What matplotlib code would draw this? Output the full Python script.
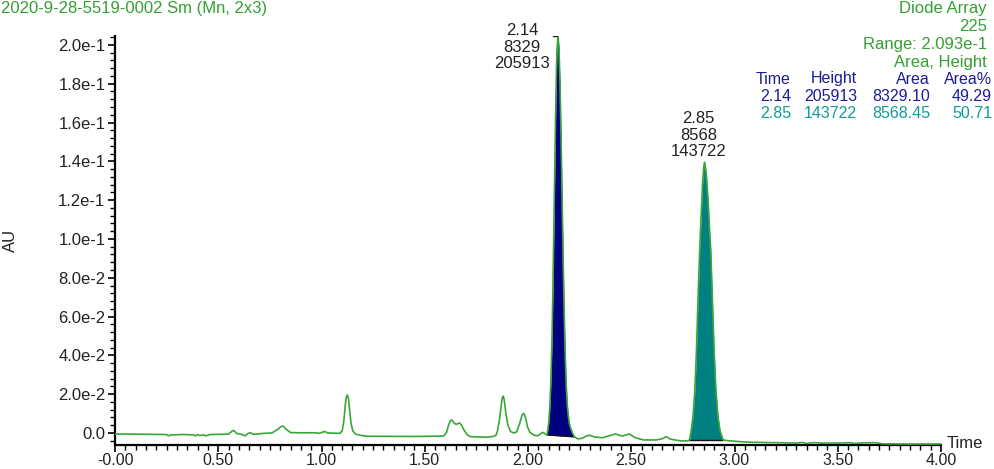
import numpy as np
import matplotlib
matplotlib.use("Agg")
import matplotlib.pyplot as plt
from matplotlib.ticker import MultipleLocator, FixedLocator

plt.rcParams['font.family'] = ['Liberation Sans', 'DejaVu Sans']

# chromatogram trace (time in min, absorbance in AU)
time = [0.00, 0.10, 0.20, 0.25, 0.26, 0.27, 0.33, 0.38, 0.39, 0.40, 0.41, 0.43, 0.44, 0.46,
        0.55, 0.565, 0.575, 0.59, 0.61, 0.63, 0.645, 0.655, 0.67, 0.72, 0.76, 0.79, 0.805,
        0.815, 0.83, 0.85, 0.90, 0.97, 0.99, 1.015, 1.03, 1.08,
        1.09, 1.10, 1.108, 1.114, 1.119, 1.125, 1.13, 1.136, 1.143, 1.152, 1.165,
        1.19, 1.22, 1.45, 1.59, 1.605, 1.615, 1.625, 1.632, 1.645, 1.655, 1.668, 1.678,
        1.69, 1.705, 1.72, 1.80, 1.83, 1.845,
        1.852, 1.862, 1.87, 1.876, 1.88, 1.885, 1.893, 1.903, 1.915, 1.93, 1.945, 1.96,
        1.972, 1.98, 1.988, 1.998, 2.01, 2.03, 2.048, 2.06, 2.071, 2.085, 2.092,
        2.095, 2.10, 2.105, 2.11, 2.115, 2.12, 2.125, 2.13, 2.135, 2.14, 2.145,
        2.15, 2.155, 2.16, 2.165, 2.17, 2.175, 2.18, 2.185, 2.19, 2.195, 2.20, 2.205,
        2.215, 2.225, 2.24, 2.26, 2.285, 2.30, 2.32, 2.36, 2.40, 2.425, 2.445, 2.46,
        2.49, 2.52, 2.56, 2.62, 2.65, 2.67, 2.69, 2.74, 2.775,
        2.782, 2.79, 2.799, 2.808, 2.816, 2.823, 2.831, 2.839, 2.845, 2.851, 2.855,
        2.863, 2.872, 2.88, 2.885, 2.893, 2.901, 2.91, 2.92, 2.93, 2.945,
        2.97, 3.03, 3.08, 3.20, 3.30, 3.33, 3.35, 3.38, 3.42, 3.50, 3.56, 3.58, 3.62,
        3.68, 3.72, 3.85, 4.00]
au = [-0.0005, -0.0006, -0.0007, -0.0008, -0.0015, -0.0010, -0.0008, -0.0010, -0.0015,
      -0.0008, -0.0013, -0.0010, -0.0015, -0.0008,
      -0.0006, 0.0008, 0.0013, -0.0003, -0.0006, -0.0015, -0.0002, 0.0001, -0.0007, -0.0002,
      0.0000, 0.0020, 0.0034, 0.0035, 0.0018, 0.0002, 0.0001, 0.0001, -0.0002, 0.0008,
      0.0000, -0.0002,
      -0.0002, 0.0010, 0.0060, 0.0130, 0.0180, 0.0196, 0.0180, 0.0120, 0.0050, 0.0010,
      -0.0006,
      -0.0012, -0.0017, -0.0018, -0.0016, 0.0000, 0.0040, 0.0065, 0.0067, 0.0048, 0.0045,
      0.0052, 0.0041, 0.0015, -0.0008, -0.0019, -0.0022, -0.0018, -0.0012,
      0.0010, 0.0070, 0.0140, 0.0185, 0.0190, 0.0170, 0.0100, 0.0040, 0.0008, 0.0000,
      0.0005, 0.0050, 0.0095, 0.0101, 0.0080, 0.0030, 0.0002, -0.0012, -0.0014, -0.0005,
      0.0003, -0.0005, -0.0010,
      0.0010, 0.0050, 0.0120, 0.0245, 0.0430, 0.0700, 0.1030, 0.1390, 0.1730, 0.1970,
      0.2045,
      0.1985, 0.1800, 0.1530, 0.1210, 0.0900, 0.0630, 0.0410, 0.0250, 0.0145, 0.0090,
      0.0050, 0.0030,
      0.0000, -0.0020, -0.0030, -0.0028, -0.0015, -0.0012, -0.0020, -0.0025, -0.0012,
      -0.0005, -0.0013, -0.0015, -0.0005, -0.0025, -0.0036, -0.0036, -0.0030, -0.0019,
      -0.0032, -0.0041, -0.0040,
      -0.0036, 0.0010, 0.0084, 0.0220, 0.0430, 0.0680, 0.0930, 0.1130, 0.1280, 0.1370,
      0.1395,
      0.1340, 0.1200, 0.1030, 0.0940, 0.0680, 0.0430, 0.0220, 0.0084, 0.0010, -0.0036,
      -0.0040, -0.0045, -0.0048, -0.0050, -0.0052, -0.0049, -0.0054, -0.0050, -0.0052,
      -0.0052, -0.0050, -0.0054, -0.0051, -0.0050, -0.0056, -0.0057, -0.0057]

# integrated peaks
peak_times = [2.14, 2.85]
peak_apex = [2.145, 2.855]
peak_areas = [8329, 8568]
peak_heights = [205913, 143722]
peak_start = [2.092, 2.782]
peak_end = [2.225, 2.945]
peak_fill = ['#000080', '#008080']

# peak table
table_cols = ['Time', 'Height', 'Area', 'Area%']
table_rows = [['2.14', '205913', '8329.10', '49.29'],
              ['2.85', '143722', '8568.45', '50.71']]
table_colors = ['#1c1c96', '#139a9a']

header_lines = ['Diode Array', '225', 'Range: 2.093e-1', 'Area, Height']
title = '2020-9-28-5519-0002 Sm (Mn, 2x3)'

x_ticks = [0.0, 0.5, 1.0, 1.5, 2.0, 2.5, 3.0, 3.5, 4.0]
x_ticklabels = ['-0.00', '0.50', '1.00', '1.50', '2.00', '2.50', '3.00', '3.50', '4.00']
y_ticks = [0.0, 0.02, 0.04, 0.06, 0.08, 0.10, 0.12, 0.14, 0.16, 0.18, 0.20]
y_ticklabels = ['0.0', '2.0e-2', '4.0e-2', '6.0e-2', '8.0e-2', '1.0e-1', '1.2e-1',
                '1.4e-1', '1.6e-1', '1.8e-1', '2.0e-1']

green = '#3aa63a'
text_green = '#33a033'
dark = '#222222'
fs = 12

W, H = 994, 469
fig = plt.figure(figsize=(W / 100, H / 100), dpi=100)
ax = fig.add_axes([115 / W, 1 - 445 / H, (941 - 115) / W, (445 - 36) / H])

t = np.array(time)
a = np.array(au)
for i in range(len(peak_times)):
    m = (t >= peak_start[i]) & (t <= peak_end[i])
    base = np.interp(t[m], [peak_start[i], peak_end[i]],
                     [np.interp(peak_start[i], t, a), np.interp(peak_end[i], t, a)])
    ax.fill_between(t[m], base, a[m], color=peak_fill[i], lw=0, zorder=2)
    ax.plot([peak_start[i], peak_end[i]], [base[0], base[-1]], color='#111111', lw=1, zorder=3)

ax.plot(t, a, color=green, lw=1.2, zorder=4)

# peak labels (offsets in pixels from the apex, text top anchored)
label_off = [(-36, 13), (-6, 51)]
for i in range(len(peak_times)):
    top = np.interp(peak_apex[i], t, a)
    ax.annotate(f"{peak_times[i]:.2f}\n{peak_areas[i]}\n{peak_heights[i]}",
                xy=(peak_apex[i], top), xytext=label_off[i], textcoords='offset pixels',
                ha='center', va='top', fontsize=fs, color=dark, linespacing=1.12)
# apex marker on the main peak
ax.plot([2.12, 2.14], [0.2045, 0.2045], color=dark, lw=1, zorder=5)

ax.set_xlim(0, 4.0)
ax.set_ylim(-0.0062, 0.2046)
ax.spines['top'].set_visible(False)
ax.spines['right'].set_visible(False)
ax.spines['left'].set_linewidth(1.6)
ax.spines['bottom'].set_linewidth(1.6)
ax.xaxis.set_major_locator(FixedLocator(x_ticks))
ax.set_xticklabels(x_ticklabels)
ax.xaxis.set_minor_locator(MultipleLocator(0.05))
ax.yaxis.set_major_locator(FixedLocator(y_ticks))
ax.set_yticklabels(y_ticklabels)
ax.yaxis.set_minor_locator(MultipleLocator(0.004))
ax.tick_params(which='major', length=5, width=1.2, labelsize=fs, colors='black',
               labelcolor=dark, pad=2)
ax.tick_params(axis='x', which='major', labelsize=11.5, pad=1)
ax.tick_params(which='minor', length=3.5, width=1, colors='black')

fig.text(1 / W, 1 - 8 / H, title, color=text_green, fontsize=fs, ha='left', va='center')
fig.text(3 / W, 1 - 240 / H, 'AU', rotation=90, fontsize=fs, color=dark,
         ha='left', va='center')
fig.text(947 / W, 1 - 443 / H, 'Time', fontsize=fs, color=dark, ha='left', va='center')

for k, line in enumerate(header_lines):
    fig.text(987 / W, 1 - (8 + 18.3 * k) / H, line, color=text_green, fontsize=fs,
             ha='right', va='center')

col_right = [791, 857, 930, 992]
for j, c in enumerate(table_cols):
    fig.text(col_right[j] / W, 1 - 79 / H, c, color=table_colors[0], fontsize=fs - 0.5,
             ha='right', va='center')
for r, row in enumerate(table_rows):
    for j, v in enumerate(row):
        fig.text(col_right[j] / W, 1 - (96.5 + 17.5 * r) / H, v, color=table_colors[r],
                 fontsize=fs - 0.5, ha='right', va='center')

fig.savefig('out.png', dpi=100)
